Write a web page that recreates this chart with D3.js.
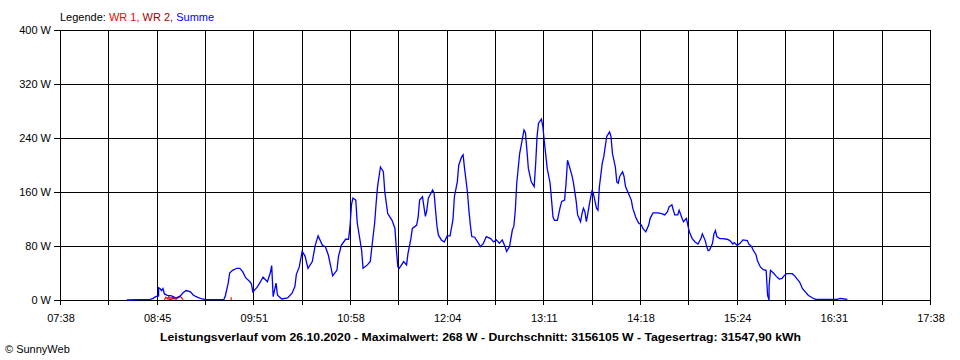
<!DOCTYPE html>
<html>
<head>
<meta charset="utf-8">
<script src="https://cdn.jsdelivr.net/npm/d3@7"></script>
<style>
  html, body { margin: 0; padding: 0; background: #fff; }
  svg { display: block; font-family: "Liberation Sans", Arial, sans-serif; }
</style>
</head>
<body>
<svg id="chart" width="960" height="360"></svg>
<script>
// ---- data ----
const tickLabels = ["07:38","08:45","09:51","10:58","12:04","13:11","14:18","15:24","16:31","17:38"];
const yTicks = [0, 80, 160, 240, 320, 400];

const summeTimes = ["08:24","08:40","08:42","08:44","08:46","08:46","08:47","08:48","08:49","08:50","08:52","08:55","08:58","09:01","09:03","09:05","09:08","09:10","09:13","09:16","09:19","09:31","09:32","09:34","09:35","09:37","09:40","09:42","09:44","09:46","09:49","09:50","09:51","09:54","09:56","09:58","10:01","10:03","10:04","10:05","10:07","10:08","10:11","10:15","10:18","10:20","10:21","10:23","10:25","10:27","10:29","10:32","10:34","10:36","10:39","10:41","10:43","10:45","10:46","10:49","10:50","10:52","10:55","10:57","10:58","10:59","11:00","11:02","11:03","11:06","11:07","11:10","11:12","11:13","11:15","11:16","11:17","11:19","11:21","11:22","11:24","11:27","11:29","11:30","11:31","11:32","11:35","11:37","11:38","11:40","11:41","11:44","11:45","11:46","11:48","11:49","11:50","11:51","11:52","11:55","11:56","11:57","11:58","11:59","12:01","12:03","12:05","12:07","12:09","12:10","12:12","12:13","12:15","12:16","12:17","12:19","12:20","12:21","12:22","12:24","12:26","12:28","12:30","12:32","12:35","12:37","12:39","12:41","12:43","12:45","12:46","12:48","12:50","12:51","12:52","12:53","12:55","12:57","12:58","12:59","13:00","13:01","13:03","13:05","13:06","13:07","13:08","13:10","13:11","13:12","13:14","13:16","13:17","13:18","13:19","13:21","13:23","13:24","13:26","13:27","13:28","13:29","13:31","13:32","13:34","13:35","13:37","13:38","13:39","13:40","13:41","13:42","13:43","13:45","13:46","13:48","13:49","13:50","13:52","13:53","13:54","13:55","13:57","13:58","13:59","14:01","14:02","14:03","14:04","14:06","14:07","14:08","14:10","14:12","14:13","14:15","14:17","14:19","14:20","14:22","14:24","14:25","14:27","14:30","14:33","14:35","14:37","14:38","14:40","14:41","14:42","14:44","14:45","14:47","14:48","14:50","14:51","14:52","14:54","14:56","14:58","15:00","15:01","15:03","15:04","15:05","15:06","15:08","15:09","15:10","15:11","15:13","15:15","15:18","15:20","15:22","15:23","15:25","15:27","15:29","15:32","15:33","15:35","15:36","15:38","15:39","15:41","15:43","15:45","15:46","15:47","15:47","15:48","15:50","15:52","15:54","15:56","15:57","15:59","16:03","16:05","16:06","16:08","16:10","16:12","16:14","16:17","16:19","16:29","16:34","16:36","16:39","16:41"];
const summeValues = [0,1,2,5,6,18,17,14,17,9,7,6,3,6,11,14,12,7,4,1.5,0.7,0.7,6,25,40,44,47,47,42,33,27,24,12,19,26,34,27,40,51,5,25,7,1.5,3,10,20,38,49,72,65,47,57,81,95,81,79,67,47,36,44,64,81,90,90,109,141,151,148,114,74,47,52,57,77,114,143,168,197,190,160,128,118,106,74,49,47,57,52,69,91,106,111,123,148,153,138,124,133,151,163,158,133,109,96,89,86,95,95,119,153,175,200,212,215,195,160,133,111,94,93,86,79,84,94,91,86,89,84,89,79,72,79,104,109,133,173,217,240,252,248,222,195,175,168,200,242,262,268,257,235,195,173,148,123,118,118,138,146,148,173,207,200,185,175,146,126,116,128,136,131,116,128,141,163,156,136,133,168,203,212,227,242,249,242,217,197,175,173,183,190,183,168,158,148,136,123,114,111,106,101,111,121,129,129,128,126,131,138,141,133,126,126,133,121,116,121,111,101,91,86,83,91,98,88,79,73,74,84,98,103,94,91,91,90,88,83,85,81,84,89,88,83,79,74,67,58,49,45,44,7,0,20,44,40,35,31,32,35,39,39,35,32,27,17,12,7,3,1,1,1,2.5,1.5,1];

// null = no reading (gap in the line)
const wr1Times = ["08:50","08:51","08:52","08:53","08:54","08:56","08:58","09:00","09:01","09:02","09:03","09:20","09:36","09:36","09:36"];
const wr1Values = [0,4,2,5,3,4,1,4,5,3,0,null,0,4,0];
const wr2Times = ["08:52","08:54","08:56","08:57"];
const wr2Values = [2,1,2,1];

// ---- layout ----
const svg = d3.select("#chart");
const padL = 60, padR = 930, padT = 30, padB = 300;
const toMin = s => { const [h, m] = s.split(":").map(Number); return h * 60 + m; };
const x = d3.scaleLinear().domain([toMin("07:38"), toMin("17:38")]).range([padL, padR]);
const y = d3.scaleLinear().domain([0, 400]).range([padB, padT]);

const xDom = x.domain();
const nGrid = (tickLabels.length - 1) * 2;
const gridX = d3.range(nGrid + 1).map(i => xDom[0] + i * (xDom[1] - xDom[0]) / nGrid);

// grid
const g = svg.append("g").attr("shape-rendering", "crispEdges");
g.selectAll(".vg").data(gridX).enter().append("line")
  .attr("x1", d => Math.round(x(d)) + 0.5).attr("x2", d => Math.round(x(d)) + 0.5)
  .attr("y1", padT).attr("y2", padB + 5)
  .attr("stroke", "#000").attr("stroke-width", 1);
g.selectAll(".hg").data(yTicks).enter().append("line")
  .attr("x1", padL - 6).attr("x2", padR)
  .attr("y1", d => Math.round(y(d)) + 0.5).attr("y2", d => Math.round(y(d)) + 0.5)
  .attr("stroke", "#000").attr("stroke-width", 1);

// y labels
svg.selectAll(".yl").data(yTicks).enter().append("text")
  .attr("x", 51).attr("y", d => y(d) + 4)
  .attr("text-anchor", "end").attr("font-size", 11).attr("fill", "#000")
  .text(d => d + " W");

// x labels
svg.selectAll(".xl").data(tickLabels).enter().append("text")
  .attr("x", (d, i) => x(gridX[i * 2]) + 1).attr("y", 322)
  .attr("text-anchor", "middle").attr("font-size", 11).attr("fill", "#000")
  .text(d => d);

// lines
const mk = (times, vals) => times.map((t, i) => ({ t: toMin(t), v: vals[i] }));
const line = d3.line().defined(d => d.v != null).x(d => x(d.t)).y(d => y(d.v));
svg.append("path").datum(mk(wr2Times, wr2Values)).attr("d", line)
  .attr("fill", "none").attr("stroke", "#a00000").attr("stroke-width", 1.2);
svg.append("path").datum(mk(wr1Times, wr1Values)).attr("d", line)
  .attr("fill", "none").attr("stroke", "#ff0000").attr("stroke-width", 1.2);
svg.append("path").datum(mk(summeTimes, summeValues)).attr("d", line)
  .attr("fill", "none").attr("stroke", "#0000ff").attr("stroke-width", 1.3);

// legend
const leg = svg.append("text").attr("x", 60).attr("y", 21).attr("font-size", 11);
leg.append("tspan").attr("fill", "#000").text("Legende: ");
leg.append("tspan").attr("fill", "#ff0000").text("WR 1, ");
leg.append("tspan").attr("fill", "#a00000").text("WR 2, ");
leg.append("tspan").attr("fill", "#0000ff").text("Summe");

// title
svg.append("text").attr("x", 480.5).attr("y", 341).attr("text-anchor", "middle")
  .attr("font-size", 11.5).attr("font-weight", "bold").attr("fill", "#000")
  .attr("textLength", 641).attr("lengthAdjust", "spacingAndGlyphs")
  .text("Leistungsverlauf vom 26.10.2020 - Maximalwert: 268 W - Durchschnitt: 3156105 W - Tagesertrag: 31547,90 kWh");

svg.append("text").attr("x", 5).attr("y", 353).attr("font-size", 11).attr("fill", "#000")
  .text("© SunnyWeb");
</script>
</body>
</html>
